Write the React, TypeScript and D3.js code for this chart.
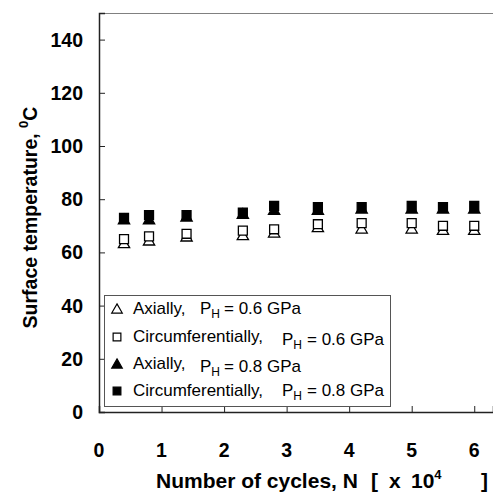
import React, { useEffect, useRef } from "react";
import * as d3 from "d3";

// cycles, x 10^4
const cycles = [0.4, 0.8, 1.4, 2.3, 2.8, 3.5, 4.2, 5.0, 5.5, 6.0];
// surface temperature, deg C
const axial06 = [63, 64, 65.5, 66, 67, 69, 68.5, 68.5, 68, 68];
const circ06 = [65, 66, 67, 68.2, 68.7, 70.6, 71, 71, 70, 70];
const axial08 = [72, 72, 73, 74, 75.5, 75.5, 76, 76, 76, 76];
const circ08 = [73, 74, 74, 75, 77.5, 77, 77, 77.5, 77, 77.5];

const yTicks = [0, 20, 40, 60, 80, 100, 120, 140];
const xTicks = [0, 1, 2, 3, 4, 5, 6];

const legendLabels = ["Axially,", "Circumferentially,", "Axially,", "Circumferentially,"];
const legendPressures = ["0.6", "0.6", "0.8", "0.8"];

export default function App() {
  const svgRef = useRef<SVGSVGElement>(null);

  useEffect(() => {
    const width = 493, height = 492;
    const left = 99, top = 13, right = 493, bottom = 412;
    const font = "'Liberation Sans', Arial, sans-serif";

    const svg = d3.select(svgRef.current);
    svg.selectAll("*").remove();
    svg.attr("width", width).attr("height", height);

    const x = d3.scaleLinear().domain([0, 6.3]).range([left, right]);
    const y = d3.scaleLinear().domain([0, 150]).range([bottom, top]);

    // frame top line
    svg.append("line")
      .attr("x1", left).attr("x2", right).attr("y1", top + 0.5).attr("y2", top + 0.5)
      .attr("stroke", "#808080").attr("stroke-width", 1);

    // y axis, ticks inside
    const yAxis = svg.append("g")
      .attr("transform", `translate(${left},0)`)
      .call(d3.axisRight(y).tickValues(yTicks).tickSize(6).tickFormat(() => ""));
    yAxis.select(".domain").attr("stroke", "#222").attr("stroke-width", 1.5);
    yAxis.selectAll(".tick line").attr("stroke", "#222");

    yTicks.forEach(t => {
      svg.append("text")
        .attr("x", 83).attr("y", y(t) + 7)
        .attr("text-anchor", "end")
        .style("font-family", font).style("font-weight", "bold").style("font-size", "19.5px")
        .text(t);
    });

    // x axis, ticks inside
    const xAxis = svg.append("g")
      .attr("transform", `translate(0,${bottom})`)
      .call(d3.axisTop(x).tickValues(xTicks).tickSize(6).tickFormat(() => ""));
    xAxis.select(".domain").attr("stroke", "#222").attr("stroke-width", 1.5);
    xAxis.selectAll(".tick line").attr("stroke", "#222");

    xTicks.forEach(t => {
      svg.append("text")
        .attr("x", x(t)).attr("y", 457)
        .attr("text-anchor", "middle")
        .style("font-family", font).style("font-weight", "bold").style("font-size", "19.5px")
        .text(t);
    });

    // axis titles
    const xt = svg.append("text")
      .attr("y", 488)
      .style("font-family", font).style("font-weight", "bold").style("font-size", "21px");
    xt.append("tspan").attr("x", 156).text("Number of cycles, N");
    xt.append("tspan").attr("x", 371).text("[");
    xt.append("tspan").attr("x", 389).text("x");
    xt.append("tspan").attr("x", 411).text("10");
    xt.append("tspan").attr("dy", -9).style("font-size", "13px").text("4");
    xt.append("tspan").attr("x", 481).attr("dy", 9).text("]");

    const yt = svg.append("text")
      .attr("transform", `translate(37,${(top + bottom) / 2 + 5}) rotate(-90)`)
      .attr("text-anchor", "middle")
      .style("font-family", font).style("font-weight", "bold").style("font-size", "19.5px");
    yt.append("tspan").text("Surface temperature, ");
    yt.append("tspan").attr("dy", -9).style("font-size", "13px").text("0");
    yt.append("tspan").attr("dy", 9).text("C");

    const tri = d3.symbol().type(d3.symbolTriangle).size(55);
    const sq = d3.symbol().type(d3.symbolSquare).size(80);

    const series = [
      { vals: axial06, path: tri, filled: false },
      { vals: circ06, path: sq, filled: false },
      { vals: axial08, path: tri, filled: true },
      { vals: circ08, path: sq, filled: true },
    ];

    series.forEach(s => {
      svg.append("g").selectAll("path")
        .data(s.vals)
        .enter()
        .append("path")
        .attr("d", s.path() as string)
        .attr("transform", (d, i) => `translate(${x(cycles[i])},${y(d)})`)
        .attr("fill", s.filled ? "#000" : "#fff")
        .attr("stroke", "#000")
        .attr("stroke-width", 1.3);
    });

    // legend
    const lg = svg.append("g");
    lg.append("rect")
      .attr("x", 104.5).attr("y", 295.5).attr("width", 286).attr("height", 111)
      .attr("fill", "#fff").attr("stroke", "#555").attr("stroke-width", 1);

    const baseY = [314, 342, 369, 396];
    const pX = [200, 282, 200, 282];
    const eqX = [224, 307, 224, 307];
    const pShift = [0, 3, 3, 0];
    const legTri = d3.symbol().type(d3.symbolTriangle).size(48);
    const legSq = d3.symbol().type(d3.symbolSquare).size(60);
    legendLabels.forEach((label, i) => {
      const isTri = i % 2 === 0;
      const filled = i >= 2;
      lg.append("path")
        .attr("d", (isTri ? legTri : legSq)() as string)
        .attr("transform", `translate(117,${baseY[i] - 5 + (isTri ? 1 : 0)})`)
        .attr("fill", filled ? "#000" : "#fff")
        .attr("stroke", "#000").attr("stroke-width", 1.2);
      const t = lg.append("text")
        .attr("y", baseY[i])
        .style("font-family", font).style("font-size", "17px");
      t.append("tspan").attr("x", 133).text(label);
      t.append("tspan").attr("x", pX[i]).attr("dy", pShift[i]).text("P");
      t.append("tspan").attr("dy", 4).style("font-size", "12px").text("H");
      t.append("tspan").attr("x", eqX[i]).attr("dy", -4).text(`= ${legendPressures[i]} GPa`);
    });
  }, []);

  return (
    <svg ref={svgRef} style={{ position: "absolute", left: 0, top: 0, background: "#fff" }}></svg>
  );
}
